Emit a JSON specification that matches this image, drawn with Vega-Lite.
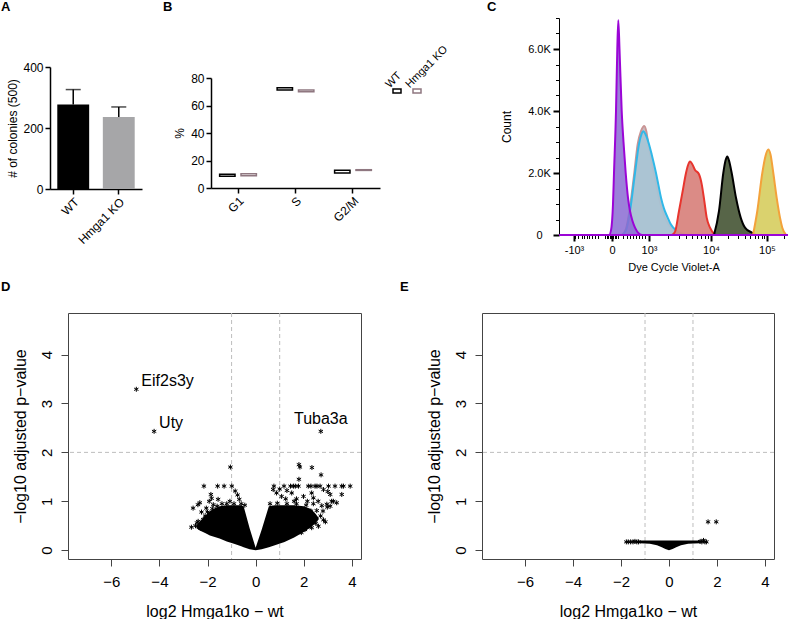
{
  "$schema": "https://vega.github.io/schema/vega-lite/v6.json",
  "background": "white",
  "padding": 0,
  "autosize": {"type": "pad"},
  "config": {
    "font": "Liberation Sans",
    "view": {"stroke": null},
    "axis": {"grid": false, "labelColor": "#000", "titleColor": "#000", "titleFontWeight": "normal", "domainColor": "#000", "tickColor": "#000", "labelFlush": false, "labelOverlap": false},
    "title": {"fontWeight": "bold", "fontSize": 13, "anchor": "start", "frame": "group", "baseline": "alphabetic", "color": "#000"}
  },
  "datasets": {
    "colonies": [
      {"genotype": "WT", "colonies": 277, "upper": 326},
      {"genotype": "Hmga1 KO", "colonies": 236, "upper": 269}
    ],
    "cycle": [
      {"phase": "G1", "genotype": "WT", "lo": 8.6, "hi": 10.0},
      {"phase": "G1", "genotype": "Hmga1 KO", "lo": 9.0, "hi": 10.3},
      {"phase": "S", "genotype": "WT", "lo": 71.3, "hi": 73.0},
      {"phase": "S", "genotype": "Hmga1 KO", "lo": 70.0, "hi": 71.3},
      {"phase": "G2/M", "genotype": "WT", "lo": 11.0, "hi": 13.0},
      {"phase": "G2/M", "genotype": "Hmga1 KO", "lo": 12.8, "hi": 13.3}
    ],
    "legendB": [{"genotype": "WT"}, {"genotype": "Hmga1 KO"}],
    "flow": [
      {"s": "purple", "d": 0, "n": 0}, {"s": "purple", "d": 50, "n": 0}, {"s": "purple", "d": 52, "n": 150}, {"s": "purple", "d": 54, "n": 1000}, {"s": "purple", "d": 55, "n": 2000}, {"s": "purple", "d": 57, "n": 4000}, {"s": "purple", "d": 58.3, "n": 6000}, {"s": "purple", "d": 59.3, "n": 6930}, {"s": "purple", "d": 60.5, "n": 6000}, {"s": "purple", "d": 62.7, "n": 4000}, {"s": "purple", "d": 64.5, "n": 3000}, {"s": "purple", "d": 66.7, "n": 2000}, {"s": "purple", "d": 69, "n": 1200}, {"s": "purple", "d": 71, "n": 774}, {"s": "purple", "d": 73.5, "n": 450}, {"s": "purple", "d": 76, "n": 236}, {"s": "purple", "d": 79, "n": 80}, {"s": "purple", "d": 83, "n": 0}, {"s": "purple", "d": 229, "n": 0},
      {"s": "cyan", "d": 63, "n": 0}, {"s": "cyan", "d": 67, "n": 150}, {"s": "cyan", "d": 71, "n": 774}, {"s": "cyan", "d": 76, "n": 2000}, {"s": "cyan", "d": 80, "n": 2930}, {"s": "cyan", "d": 82.5, "n": 3250}, {"s": "cyan", "d": 84.3, "n": 3350}, {"s": "cyan", "d": 86.5, "n": 3250}, {"s": "cyan", "d": 90, "n": 2930}, {"s": "cyan", "d": 92.7, "n": 2600}, {"s": "cyan", "d": 97, "n": 2000}, {"s": "cyan", "d": 99.5, "n": 1600}, {"s": "cyan", "d": 102, "n": 1200}, {"s": "cyan", "d": 105, "n": 850}, {"s": "cyan", "d": 108.7, "n": 560}, {"s": "cyan", "d": 111.5, "n": 360}, {"s": "cyan", "d": 114.3, "n": 236}, {"s": "cyan", "d": 119, "n": 100}, {"s": "cyan", "d": 126, "n": 0},
      {"s": "rosy", "d": 63, "n": 0}, {"s": "rosy", "d": 67, "n": 200}, {"s": "rosy", "d": 71, "n": 900}, {"s": "rosy", "d": 75.3, "n": 2000}, {"s": "rosy", "d": 78.7, "n": 2930}, {"s": "rosy", "d": 82, "n": 3350}, {"s": "rosy", "d": 85.3, "n": 3520}, {"s": "rosy", "d": 87.3, "n": 3350}, {"s": "rosy", "d": 89.3, "n": 2930}, {"s": "rosy", "d": 92, "n": 2500}, {"s": "rosy", "d": 95, "n": 2000}, {"s": "rosy", "d": 97.5, "n": 1600}, {"s": "rosy", "d": 100, "n": 1200}, {"s": "rosy", "d": 103, "n": 850}, {"s": "rosy", "d": 106, "n": 560}, {"s": "rosy", "d": 110, "n": 330}, {"s": "rosy", "d": 114, "n": 160}, {"s": "rosy", "d": 122.7, "n": 0},
      {"s": "red", "d": 113, "n": 0}, {"s": "red", "d": 116, "n": 100}, {"s": "red", "d": 120, "n": 774}, {"s": "red", "d": 123.7, "n": 1420}, {"s": "red", "d": 127, "n": 2000}, {"s": "red", "d": 129, "n": 2250}, {"s": "red", "d": 131, "n": 2370}, {"s": "red", "d": 133, "n": 2300}, {"s": "red", "d": 136, "n": 2100}, {"s": "red", "d": 140, "n": 1960}, {"s": "red", "d": 142.7, "n": 1640}, {"s": "red", "d": 145.3, "n": 1100}, {"s": "red", "d": 147.7, "n": 560}, {"s": "red", "d": 151, "n": 236}, {"s": "red", "d": 156, "n": 0},
      {"s": "green", "d": 155, "n": 0}, {"s": "green", "d": 160, "n": 774}, {"s": "green", "d": 164.3, "n": 2000}, {"s": "green", "d": 166.5, "n": 2400}, {"s": "green", "d": 168.3, "n": 2530}, {"s": "green", "d": 170, "n": 2400}, {"s": "green", "d": 172.7, "n": 2000}, {"s": "green", "d": 177, "n": 1200}, {"s": "green", "d": 181.7, "n": 560}, {"s": "green", "d": 186, "n": 236}, {"s": "green", "d": 192.7, "n": 80}, {"s": "green", "d": 197, "n": 0},
      {"s": "yellow", "d": 194, "n": 0}, {"s": "yellow", "d": 198.3, "n": 774}, {"s": "yellow", "d": 203.3, "n": 2000}, {"s": "yellow", "d": 206.5, "n": 2550}, {"s": "yellow", "d": 209.3, "n": 2760}, {"s": "yellow", "d": 211.5, "n": 2600}, {"s": "yellow", "d": 214.3, "n": 2000}, {"s": "yellow", "d": 217.7, "n": 1200}, {"s": "yellow", "d": 221, "n": 560}, {"s": "yellow", "d": 223.3, "n": 236}, {"s": "yellow", "d": 227, "n": 0}
    ],
    "coreD": [
      {"x": -2.46, "lo": 0.45, "hi": 0.5}, {"x": -2.3, "lo": 0.4, "hi": 0.6}, {"x": -2.1, "lo": 0.35, "hi": 0.7}, {"x": -1.9, "lo": 0.3, "hi": 0.8}, {"x": -1.7, "lo": 0.27, "hi": 0.86}, {"x": -1.5, "lo": 0.24, "hi": 0.9}, {"x": -1.2, "lo": 0.18, "hi": 0.92}, {"x": -0.9, "lo": 0.13, "hi": 0.92}, {"x": -0.6, "lo": 0.08, "hi": 0.92}, {"x": -0.5, "lo": 0.06, "hi": 0.9}, {"x": -0.25, "lo": 0.02, "hi": 0.45}, {"x": 0, "lo": 0, "hi": 0.05}, {"x": 0.25, "lo": 0.02, "hi": 0.42}, {"x": 0.55, "lo": 0.06, "hi": 0.9}, {"x": 0.8, "lo": 0.1, "hi": 0.92}, {"x": 1.2, "lo": 0.17, "hi": 0.92}, {"x": 1.6, "lo": 0.26, "hi": 0.92}, {"x": 2.0, "lo": 0.37, "hi": 0.9}, {"x": 2.3, "lo": 0.47, "hi": 0.84}, {"x": 2.5, "lo": 0.56, "hi": 0.74}, {"x": 2.62, "lo": 0.63, "hi": 0.66}
    ],
    "pointsD": [
      {"x": -4.96, "y": 3.29, "label": "Eif2s3y"}, {"x": -4.22, "y": 2.43, "label": "Uty"}, {"x": 2.71, "y": 2.43, "label": "Tuba3a"},
      {"x": -1.05, "y": 1.7}, {"x": -2.15, "y": 1.31}, {"x": -1.58, "y": 1.31}, {"x": -1.31, "y": 1.31}, {"x": -0.99, "y": 1.31},
      {"x": -0.85, "y": 1.21}, {"x": -0.75, "y": 1.13}, {"x": -0.68, "y": 1.04}, {"x": -1.07, "y": 1.0},
      {"x": -1.86, "y": 1.14}, {"x": -1.93, "y": 1.0}, {"x": -1.83, "y": 1.06},
      {"x": -2.4, "y": 0.93}, {"x": -2.6, "y": 0.86}, {"x": -2.05, "y": 0.86}, {"x": -2.32, "y": 0.97},
      {"x": -2.67, "y": 0.47}, {"x": -2.44, "y": 0.56}, {"x": -2.18, "y": 0.63}, {"x": -2.39, "y": 0.59},
      {"x": -1.56, "y": 1.04}, {"x": -1.76, "y": 0.93},
      {"x": -2.3, "y": 0.45}, {"x": -2.2, "y": 0.55}, {"x": -2.1, "y": 0.7}, {"x": -2.0, "y": 0.78}, {"x": -1.95, "y": 0.6}, {"x": -1.8, "y": 0.85}, {"x": -2.1, "y": 0.42}, {"x": -2.5, "y": 0.5}, {"x": -1.6, "y": 0.9}, {"x": -1.4, "y": 0.95}, {"x": -1.2, "y": 0.95}, {"x": -0.9, "y": 0.95}, {"x": -0.6, "y": 0.95}, {"x": -0.45, "y": 0.92}, {"x": -2.25, "y": 0.78},
      {"x": 1.8, "y": 1.75}, {"x": 1.84, "y": 1.7}, {"x": 2.34, "y": 1.69}, {"x": 2.72, "y": 1.54}, {"x": 1.8, "y": 1.45},
      {"x": 0.76, "y": 1.31}, {"x": 1.18, "y": 1.31}, {"x": 1.45, "y": 1.31}, {"x": 1.57, "y": 1.31}, {"x": 1.65, "y": 1.31}, {"x": 1.78, "y": 1.31}, {"x": 2.19, "y": 1.31}, {"x": 2.3, "y": 1.31}, {"x": 2.47, "y": 1.31}, {"x": 2.55, "y": 1.31}, {"x": 2.68, "y": 1.31}, {"x": 3.03, "y": 1.31}, {"x": 3.3, "y": 1.31}, {"x": 3.58, "y": 1.31}, {"x": 3.65, "y": 1.31}, {"x": 3.93, "y": 1.31},
      {"x": 0.73, "y": 1.24}, {"x": 0.87, "y": 1.17}, {"x": 1.08, "y": 1.1}, {"x": 1.5, "y": 1.17}, {"x": 1.99, "y": 1.1}, {"x": 2.33, "y": 1.17}, {"x": 2.4, "y": 1.07}, {"x": 2.82, "y": 1.24}, {"x": 3.1, "y": 1.14}, {"x": 3.16, "y": 1.0}, {"x": 3.58, "y": 1.14}, {"x": 3.23, "y": 1.0}, {"x": 2.96, "y": 0.94}, {"x": 2.75, "y": 0.91}, {"x": 2.54, "y": 0.81}, {"x": 2.82, "y": 0.62}, {"x": 2.61, "y": 0.49}, {"x": 2.33, "y": 0.46}, {"x": 2.05, "y": 0.42}, {"x": 3.1, "y": 0.9}, {"x": 3.37, "y": 0.97}, {"x": 2.98, "y": 0.88}, {"x": 1.3, "y": 1.22}, {"x": 1.7, "y": 1.05}, {"x": 2.15, "y": 1.0}, {"x": 1.0, "y": 1.25}, {"x": 1.25, "y": 1.05}, {"x": 1.6, "y": 1.0}, {"x": 2.4, "y": 0.95}, {"x": 2.6, "y": 1.0}, {"x": 3.0, "y": 1.2},
      {"x": 0.6, "y": 0.95}, {"x": 0.9, "y": 0.96}, {"x": 1.3, "y": 0.95}, {"x": 1.7, "y": 0.95}, {"x": 2.1, "y": 0.92}, {"x": 2.3, "y": 0.8}, {"x": 2.45, "y": 0.65}, {"x": 2.5, "y": 0.55}, {"x": 2.2, "y": 0.5}, {"x": 1.9, "y": 0.36}, {"x": 2.7, "y": 0.7}, {"x": 2.35, "y": 0.58}, {"x": 2.8, "y": 0.8}, {"x": 2.9, "y": 0.58}
    ],
    "coreE": [
      {"x": -1.25, "lo": 0.14, "hi": 0.2}, {"x": -0.8, "lo": 0.13, "hi": 0.2}, {"x": -0.5, "lo": 0.1, "hi": 0.2}, {"x": -0.3, "lo": 0.06, "hi": 0.2}, {"x": -0.15, "lo": 0.025, "hi": 0.2}, {"x": 0, "lo": 0, "hi": 0.2}, {"x": 0.15, "lo": 0.025, "hi": 0.2}, {"x": 0.3, "lo": 0.06, "hi": 0.2}, {"x": 0.5, "lo": 0.1, "hi": 0.2}, {"x": 0.8, "lo": 0.13, "hi": 0.2}, {"x": 1.3, "lo": 0.14, "hi": 0.2}
    ],
    "pointsE": [
      {"x": 1.63, "y": 0.58}, {"x": 1.97, "y": 0.58}, {"x": -1.78, "y": 0.17}, {"x": -1.7, "y": 0.17}, {"x": -1.6, "y": 0.17}, {"x": -1.5, "y": 0.17}, {"x": -1.42, "y": 0.18}, {"x": -1.34, "y": 0.17}, {"x": -1.27, "y": 0.17}, {"x": 1.3, "y": 0.18}, {"x": 1.37, "y": 0.17}, {"x": 1.44, "y": 0.2}, {"x": 1.5, "y": 0.17}, {"x": 1.56, "y": 0.17}
    ],
    "cutX": [{"v": -1}, {"v": 1}],
    "cutY": [{"h": 2}]
  },
  "hconcat": [
    {
      "vconcat": [
        {"width": 1, "height": 66, "data": {"values": []}, "mark": "point", "title": {"text": "A", "dx": 1, "offset": -13.3}},
        {"hconcat": [
          {"width": 50, "height": 1, "data": {"values": []}, "mark": "point"},
          {
            "width": 92, "height": 122,
            "data": {"name": "colonies"},
            "layer": [
              {"mark": {"type": "bar"},
               "encoding": {
                 "x": {"field": "genotype", "type": "nominal", "sort": ["WT", "Hmga1 KO"], "scale": {"paddingInner": 0.3, "paddingOuter": 0.16}, "axis": {"title": null, "labelAngle": -45, "domainWidth": 1.5, "tickWidth": 1.5, "tickSize": 5, "labelFontSize": 12, "labelPadding": 2}},
                 "y": {"field": "colonies", "type": "quantitative", "scale": {"domain": [0, 400], "nice": false}, "title": "# of colonies (500)", "axis": {"values": [0, 100, 200, 300, 400], "domainWidth": 1.5, "tickWidth": 1.5, "tickSize": 5, "labelFontSize": 12, "labelPadding": 2, "titleFontSize": 12, "titlePadding": 3}},
                 "color": {"field": "genotype", "type": "nominal", "scale": {"domain": ["WT", "Hmga1 KO"], "range": ["#000000", "#a6a6a8"]}, "legend": null}
               }},
              {"mark": {"type": "rule", "color": "#000", "strokeWidth": 1.5},
               "encoding": {
                 "x": {"field": "genotype", "type": "nominal", "sort": ["WT", "Hmga1 KO"]},
                 "y": {"field": "colonies", "type": "quantitative", "title": "# of colonies (500)"},
                 "y2": {"field": "upper"}
               }},
              {"mark": {"type": "tick", "color": "#000", "thickness": 1.5, "size": 15, "orient": "horizontal"},
               "encoding": {
                 "x": {"field": "genotype", "type": "nominal", "sort": ["WT", "Hmga1 KO"]},
                 "y": {"field": "upper", "type": "quantitative", "title": "# of colonies (500)"}
               }}
            ]
          }
        ], "spacing": 0, "bounds": "flush"}
      ], "spacing": 0, "bounds": "flush"
    },
    {
      "vconcat": [
        {"width": 1, "height": 77, "data": {"values": []}, "mark": "point", "title": {"text": "B", "dx": 163, "offset": -13.3}},
        {"hconcat": [
          {"width": 211, "height": 1, "data": {"values": []}, "mark": "point"},
          {
            "width": 169, "height": 110,
            "data": {"name": "cycle"},
            "mark": {"type": "bar", "fill": "#ffffff", "strokeWidth": 1.5},
            "encoding": {
              "x": {"field": "phase", "type": "nominal", "sort": ["G1", "S", "G2/M"], "scale": {"paddingInner": 0.1, "paddingOuter": 0.02}, "axis": {"title": null, "labelAngle": -45, "domainWidth": 1.5, "tickWidth": 1.5, "tickSize": 5, "labelFontSize": 12, "labelPadding": 2}},
              "xOffset": {"field": "genotype", "type": "nominal", "sort": ["WT", "Hmga1 KO"], "scale": {"paddingInner": 0.28, "paddingOuter": 0.35}},
              "y": {"field": "lo", "type": "quantitative", "scale": {"domain": [0, 80], "nice": false}, "title": "%", "axis": {"values": [0, 20, 40, 60, 80], "domainWidth": 1.5, "tickWidth": 1.5, "tickSize": 5, "labelFontSize": 12, "labelPadding": 2, "titleFontSize": 12, "titlePadding": 4}},
              "y2": {"field": "hi"},
              "stroke": {"field": "genotype", "type": "nominal", "scale": {"domain": ["WT", "Hmga1 KO"], "range": ["#000000", "#8f7780"]}, "legend": null}
            }
          }
        ], "spacing": 0, "bounds": "flush"}
      ], "spacing": 0, "bounds": "flush"
    },
    {
      "vconcat": [
        {"width": 1, "height": 85, "data": {"values": []}, "mark": "point"},
        {"hconcat": [
          {"width": 387, "height": 1, "data": {"values": []}, "mark": "point"},
          {
            "width": 40, "height": 10,
            "data": {"name": "legendB"},
            "layer": [
              {"mark": {"type": "point", "shape": "M-1,-0.5H1V0.5H-1Z", "size": 64, "filled": true, "fill": "#ffffff", "strokeWidth": 1.5, "opacity": 1},
               "encoding": {
                 "x": {"field": "genotype", "type": "nominal", "sort": ["WT", "Hmga1 KO"], "axis": null},
                 "stroke": {"field": "genotype", "type": "nominal", "scale": {"domain": ["WT", "Hmga1 KO"], "range": ["#000000", "#8f7780"]}, "legend": null}
               }},
              {"mark": {"type": "text", "angle": 315, "align": "left", "baseline": "alphabetic", "dx": -3.4, "dy": -7, "fontSize": 11, "color": "#000"},
               "encoding": {
                 "x": {"field": "genotype", "type": "nominal", "sort": ["WT", "Hmga1 KO"], "axis": null},
                 "text": {"field": "genotype"}
               }}
            ]
          }
        ], "spacing": 0, "bounds": "flush"}
      ], "spacing": 0, "bounds": "flush"
    },
    {
      "vconcat": [
        {"width": 1, "height": 17, "data": {"values": []}, "mark": "point", "title": {"text": "C", "dx": 487, "offset": -12.7}},
        {"hconcat": [
          {"width": 559, "height": 1, "data": {"values": []}, "mark": "point"},
          {
            "width": 229, "height": 217,
            "data": {"name": "flow"},
            "layer": [
              {"transform": [{"filter": "datum.s == 'rosy'"}],
               "mark": {"type": "area", "interpolate": "monotone", "fill": "#c3b6bd", "fillOpacity": 0.9, "stroke": "#c99494", "strokeWidth": 2},
               "encoding": {
                 "x": {"field": "d", "type": "quantitative", "scale": {"domain": [0, 229], "nice": false, "zero": false}, "title": "Dye Cycle Violet-A", "axis": {"values": [15, 53, 90, 152, 208], "labelExpr": "datum.value == 15 ? '-10³' : datum.value == 53 ? '0' : datum.value == 90 ? '10³' : datum.value == 152 ? '10⁴' : '10⁵'", "tickSize": 6, "tickWidth": 2, "domainWidth": 1, "labelFontSize": 11, "labelPadding": 3, "titleFontSize": 11, "titlePadding": 6}},
                 "y": {"field": "n", "type": "quantitative", "scale": {"domain": [0, 7000], "nice": false}, "title": "Count", "axis": {"values": [0, 2000, 4000, 6000], "labelExpr": "datum.value == 0 ? '0' : format(datum.value / 1000, '.1f') + 'K'", "tickSize": 6, "tickWidth": 2, "domainWidth": 1, "labelFontSize": 11, "labelAlign": "center", "labelPadding": 14, "titleFontSize": 12, "titlePadding": 14}}
               }},
              {"transform": [{"filter": "datum.s == 'cyan'"}],
               "mark": {"type": "area", "interpolate": "monotone", "fill": "#a7c4d5", "fillOpacity": 0.9, "stroke": "#30b8e8", "strokeWidth": 2},
               "encoding": {"x": {"field": "d", "type": "quantitative", "axis": null}, "y": {"field": "n", "type": "quantitative", "axis": null}}},
              {"transform": [{"filter": "datum.s == 'red'"}],
               "mark": {"type": "area", "interpolate": "monotone", "fill": "#d9857f", "fillOpacity": 0.95, "stroke": "#e8352e", "strokeWidth": 2},
               "encoding": {"x": {"field": "d", "type": "quantitative", "axis": null}, "y": {"field": "n", "type": "quantitative", "axis": null}}},
              {"transform": [{"filter": "datum.s == 'green'"}],
               "mark": {"type": "area", "interpolate": "monotone", "fill": "#4e5d3e", "fillOpacity": 0.95, "stroke": "#000000", "strokeWidth": 2},
               "encoding": {"x": {"field": "d", "type": "quantitative", "axis": null}, "y": {"field": "n", "type": "quantitative", "axis": null}}},
              {"transform": [{"filter": "datum.s == 'yellow'"}],
               "mark": {"type": "area", "interpolate": "monotone", "fill": "#d8d066", "fillOpacity": 0.95, "stroke": "#f3a23b", "strokeWidth": 2},
               "encoding": {"x": {"field": "d", "type": "quantitative", "axis": null}, "y": {"field": "n", "type": "quantitative", "axis": null}}},
              {"transform": [{"filter": "datum.s == 'purple'"}],
               "mark": {"type": "area", "interpolate": "monotone", "fill": "#8a6bd2", "fillOpacity": 0.85, "stroke": "#9b05d6", "strokeWidth": 2},
               "encoding": {"x": {"field": "d", "type": "quantitative", "axis": null}, "y": {"field": "n", "type": "quantitative", "axis": null}}},
              {"transform": [{"filter": "datum.s == 'purple'"}],
               "mark": {"type": "point", "opacity": 0},
               "encoding": {
                 "x": {"field": "d", "type": "quantitative", "axis": {"orient": "bottom", "values": [16, 19.3, 22.7, 25.3, 27.7, 30.3, 32.7, 35.5, 38.5, 46, 47.5, 49, 50.5, 52, 54, 55.5, 57, 59.3, 63.7, 67.7, 71, 74.3, 77, 79.7, 82.7, 86, 108.7, 119.6, 127.3, 133.3, 138.2, 142.4, 146, 149.2, 168.9, 178.7, 185.7, 191.1, 195.6, 199.3, 202.6, 205.4, 224.9], "labels": false, "domain": false, "tickSize": 3.5, "tickWidth": 1, "title": null}},
                 "y": {"field": "n", "type": "quantitative", "axis": {"orient": "left", "values": [500, 1000, 1500, 2500, 3000, 3500, 4500, 5000, 5500, 6500, 7000], "labels": false, "domain": false, "tickSize": 3.5, "tickWidth": 1, "title": null}}
               }}
            ],
            "resolve": {"axis": {"x": "independent", "y": "independent"}}
          }
        ], "spacing": 0, "bounds": "flush"}
      ], "spacing": 0, "bounds": "flush"
    },
    {
      "vconcat": [
        {"width": 1, "height": 312, "data": {"values": []}, "mark": "point", "title": {"text": "D", "dx": 1, "offset": -293}},
        {"hconcat": [
          {"width": 68, "height": 1, "data": {"values": []}, "mark": "point"},
          {
            "width": 293, "height": 246,
            "view": {"stroke": "#444444", "strokeWidth": 1},
            "layer": [
              {"data": {"name": "cutX"},
               "mark": {"type": "rule", "color": "#bdbdbd", "strokeDash": [4, 3], "strokeWidth": 1},
               "encoding": {"x": {"field": "v", "type": "quantitative", "scale": {"domain": [-7.8, 4.38], "nice": false, "zero": false}, "title": "log2 Hmga1ko − wt", "axis": {"values": [-6, -4, -2, 0, 2, 4], "domain": false, "tickColor": "#444", "tickSize": 7, "tickWidth": 1, "labelFontSize": 15, "labelPadding": 8, "titleFontSize": 16, "titlePadding": 14}}}},
              {"data": {"name": "cutY"},
               "mark": {"type": "rule", "color": "#bdbdbd", "strokeDash": [4, 3], "strokeWidth": 1},
               "encoding": {"y": {"field": "h", "type": "quantitative", "scale": {"domain": [-0.18, 4.85], "nice": false, "zero": false}, "title": "−log10 adjusted p−value", "axis": {"values": [0, 1, 2, 3, 4], "domain": false, "tickColor": "#444", "tickSize": 7, "tickWidth": 1, "labelFontSize": 15, "labelAngle": -90, "labelAlign": "center", "labelBaseline": "alphabetic", "labelPadding": 10, "titleFontSize": 16, "titlePadding": 11}}}},
              {"data": {"name": "coreD"},
               "mark": {"type": "area", "color": "#000", "interpolate": "linear"},
               "encoding": {"x": {"field": "x", "type": "quantitative", "title": "log2 Hmga1ko − wt"}, "y": {"field": "lo", "type": "quantitative", "title": "−log10 adjusted p−value"}, "y2": {"field": "hi"}}},
              {"data": {"name": "pointsD"},
               "mark": {"type": "point", "shape": "M0,-1V1M-0.87,-0.5L0.87,0.5M-0.87,0.5L0.87,-0.5", "size": 25, "filled": false, "stroke": "#000", "strokeWidth": 1, "opacity": 1},
               "encoding": {"x": {"field": "x", "type": "quantitative", "title": "log2 Hmga1ko − wt"}, "y": {"field": "y", "type": "quantitative", "title": "−log10 adjusted p−value"}}},
              {"data": {"name": "pointsD"},
               "transform": [{"filter": "datum.label == 'Eif2s3y' || datum.label == 'Uty'"}],
               "mark": {"type": "text", "align": "left", "baseline": "alphabetic", "dx": 5, "dy": -3, "fontSize": 16, "color": "#000"},
               "encoding": {"x": {"field": "x", "type": "quantitative", "title": "log2 Hmga1ko − wt"}, "y": {"field": "y", "type": "quantitative", "title": "−log10 adjusted p−value"}, "text": {"field": "label"}}},
              {"data": {"name": "pointsD"},
               "transform": [{"filter": "datum.label == 'Tuba3a'"}],
               "mark": {"type": "text", "align": "center", "baseline": "alphabetic", "dy": -7, "fontSize": 16, "color": "#000"},
               "encoding": {"x": {"field": "x", "type": "quantitative", "title": "log2 Hmga1ko − wt"}, "y": {"field": "y", "type": "quantitative", "title": "−log10 adjusted p−value"}, "text": {"field": "label"}}}
            ]
          }
        ], "spacing": 0, "bounds": "flush"}
      ], "spacing": 0, "bounds": "flush"
    },
    {
      "vconcat": [
        {"width": 1, "height": 312, "data": {"values": []}, "mark": "point", "title": {"text": "E", "dx": 400, "offset": -293}},
        {"hconcat": [
          {"width": 482, "height": 1, "data": {"values": []}, "mark": "point"},
          {
            "width": 292, "height": 246,
            "view": {"stroke": "#444444", "strokeWidth": 1},
            "layer": [
              {"data": {"name": "cutX"},
               "mark": {"type": "rule", "color": "#bdbdbd", "strokeDash": [4, 3], "strokeWidth": 1},
               "encoding": {"x": {"field": "v", "type": "quantitative", "scale": {"domain": [-7.8, 4.38], "nice": false, "zero": false}, "title": "log2 Hmga1ko − wt", "axis": {"values": [-6, -4, -2, 0, 2, 4], "domain": false, "tickColor": "#444", "tickSize": 7, "tickWidth": 1, "labelFontSize": 15, "labelPadding": 8, "titleFontSize": 16, "titlePadding": 14}}}},
              {"data": {"name": "cutY"},
               "mark": {"type": "rule", "color": "#bdbdbd", "strokeDash": [4, 3], "strokeWidth": 1},
               "encoding": {"y": {"field": "h", "type": "quantitative", "scale": {"domain": [-0.18, 4.85], "nice": false, "zero": false}, "title": "−log10 adjusted p−value", "axis": {"values": [0, 1, 2, 3, 4], "domain": false, "tickColor": "#444", "tickSize": 7, "tickWidth": 1, "labelFontSize": 15, "labelAngle": -90, "labelAlign": "center", "labelBaseline": "alphabetic", "labelPadding": 10, "titleFontSize": 16, "titlePadding": 11}}}},
              {"data": {"name": "coreE"},
               "mark": {"type": "area", "color": "#000", "interpolate": "linear"},
               "encoding": {"x": {"field": "x", "type": "quantitative", "title": "log2 Hmga1ko − wt"}, "y": {"field": "lo", "type": "quantitative", "title": "−log10 adjusted p−value"}, "y2": {"field": "hi"}}},
              {"data": {"name": "pointsE"},
               "mark": {"type": "point", "shape": "M0,-1V1M-0.87,-0.5L0.87,0.5M-0.87,0.5L0.87,-0.5", "size": 25, "filled": false, "stroke": "#000", "strokeWidth": 1, "opacity": 1},
               "encoding": {"x": {"field": "x", "type": "quantitative", "title": "log2 Hmga1ko − wt"}, "y": {"field": "y", "type": "quantitative", "title": "−log10 adjusted p−value"}}}
            ]
          }
        ], "spacing": 0, "bounds": "flush"}
      ], "spacing": 0, "bounds": "flush"
    },
    {"width": 1, "height": 1, "data": {"values": []}, "mark": "point", "view": {"fill": "#ffffff"}}
  ],
  "spacing": 0,
  "bounds": "flush"
}
